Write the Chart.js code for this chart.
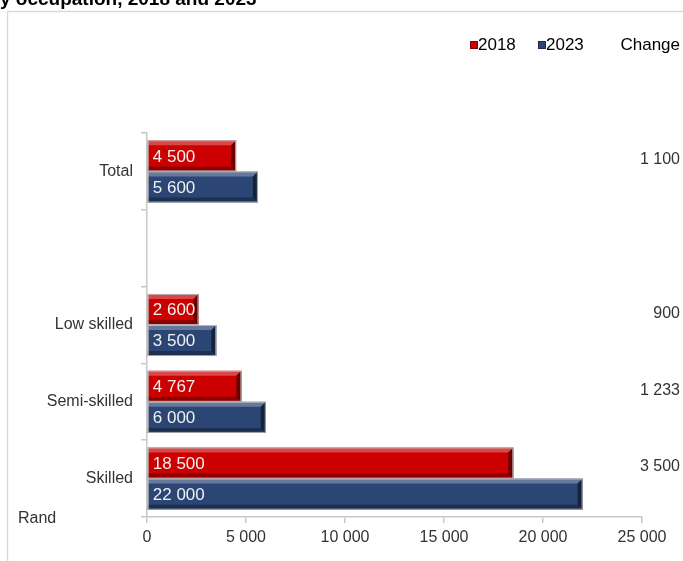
<!DOCTYPE html>
<html>
<head>
<meta charset="utf-8">
<style>
  html, body { margin: 0; padding: 0; background: #ffffff; }
  #wrap { position: relative; width: 683px; height: 561px; overflow: hidden; }
  canvas { display: block; }
</style>
<script src="https://cdn.jsdelivr.net/npm/chart.js@4/dist/chart.umd.min.js"></script>
</head>
<body>
<div id="wrap"><canvas id="chart" width="683" height="561"></canvas></div>
<script>
// Earnings by occupation (Rand)
const categories = ['Total', '', 'Low skilled', 'Semi-skilled', 'Skilled'];
const earnings2018 = [4500, null, 2600, 4767, 18500];
const earnings2023 = [5600, null, 3500, 6000, 22000];
const changeValues = [1100, null, 900, 1233, 3500];
const seriesNames = ['2018', '2023'];
const xTicks = [0, 5000, 10000, 15000, 20000, 25000];

const FONT = '"Liberation Sans", Arial, sans-serif';
const TEXT = '#333333';
const RED = '#cc0000';
const BLUE = '#2b4674';

function fmt(n) {
  return String(n).replace(/\B(?=(\d{3})+(?!\d))/g, ' ');
}

// Frame, clipped heading, unit label and legend
const decorations = {
  id: 'decorations',
  beforeDraw(chart) {
    const ctx = chart.ctx;
    ctx.save();
    ctx.fillStyle = '#ffffff';
    ctx.fillRect(0, 0, chart.width, chart.height);
    ctx.strokeStyle = '#d9d9d9';
    ctx.lineWidth = 1.5;
    ctx.beginPath();
    ctx.moveTo(7.5, chart.height + 2);
    ctx.lineTo(7.5, 11.5);
    ctx.lineTo(chart.width + 2, 11.5);
    ctx.stroke();

    ctx.fillStyle = '#000000';
    ctx.font = 'bold 19px ' + FONT;
    ctx.textBaseline = 'alphabetic';
    ctx.textAlign = 'left';
    ctx.fillText('y occupation, 2018 and 2023', 0, 5);
    ctx.restore();
  },
  afterDraw(chart) {
    const ctx = chart.ctx;
    ctx.save();
    ctx.font = '16px ' + FONT;
    ctx.fillStyle = TEXT;
    ctx.textBaseline = 'middle';
    ctx.textAlign = 'left';
    ctx.fillText('Rand', 18, 519);

    // legend
    const ly = 45;
    const colors = [RED, BLUE];
    let x = 470;
    seriesNames.forEach((name, i) => {
      ctx.fillStyle = colors[i];
      ctx.fillRect(x, ly - 4, 8, 8);
      ctx.strokeStyle = 'rgba(0,0,0,0.35)';
      ctx.lineWidth = 1;
      ctx.strokeRect(x + 0.5, ly - 3.5, 7, 7);
      ctx.fillStyle = '#000000';
      ctx.font = '17px ' + FONT;
      ctx.fillText(name, x + 8, ly);
      x += 68;
    });
    ctx.textAlign = 'right';
    ctx.fillText('Change', 680, ly);

    // change column, just below the middle of the 2018 bars
    const meta = chart.getDatasetMeta(0);
    ctx.font = '16px ' + FONT;
    ctx.fillStyle = TEXT;
    changeValues.forEach((v, i) => {
      if (v == null) return;
      const el = meta.data[i];
      ctx.fillText(fmt(v), 680, el.y + 4);
    });
    ctx.restore();
  }
};

// Bevelled bar edges plus value labels inside the bars
const bevelBars = {
  id: 'bevelBars',
  afterDatasetsDraw(chart) {
    const ctx = chart.ctx;
    ctx.save();
    chart.data.datasets.forEach((ds, di) => {
      const meta = chart.getDatasetMeta(di);
      meta.data.forEach((el, i) => {
        const v = ds.data[i];
        if (v == null) return;
        const x0 = el.base, x1 = el.x;
        const y0 = el.y - el.height / 2, y1 = el.y + el.height / 2;
        const b = 5;
        // top highlight
        ctx.fillStyle = 'rgba(255,255,255,0.28)';
        ctx.beginPath();
        ctx.moveTo(x0, y0); ctx.lineTo(x1, y0); ctx.lineTo(x1 - b, y0 + b); ctx.lineTo(x0, y0 + b);
        ctx.closePath(); ctx.fill();
        // bottom shade
        ctx.fillStyle = 'rgba(0,0,0,0.3)';
        ctx.beginPath();
        ctx.moveTo(x0, y1); ctx.lineTo(x1, y1); ctx.lineTo(x1 - b, y1 - b); ctx.lineTo(x0, y1 - b);
        ctx.closePath(); ctx.fill();
        // right edge shade
        ctx.fillStyle = 'rgba(0,0,0,0.5)';
        ctx.beginPath();
        ctx.moveTo(x1, y0); ctx.lineTo(x1, y1); ctx.lineTo(x1 - b, y1 - b); ctx.lineTo(x1 - b, y0 + b);
        ctx.closePath(); ctx.fill();
        // light outline
        ctx.strokeStyle = 'rgba(190,190,190,0.9)';
        ctx.lineWidth = 1;
        ctx.strokeRect(x0 + 0.5, y0 + 0.5, x1 - x0 - 1, y1 - y0 - 1);

        ctx.fillStyle = '#f0f0f0';
        ctx.font = '17px ' + FONT;
        ctx.textAlign = 'left';
        ctx.textBaseline = 'middle';
        ctx.fillText(fmt(v), x0 + 5, el.y + 1);
      });
    });
    ctx.restore();
  }
};

new Chart(document.getElementById('chart'), {
  type: 'bar',
  data: {
    labels: categories,
    datasets: [
      { label: seriesNames[0], data: earnings2018, backgroundColor: RED },
      { label: seriesNames[1], data: earnings2023, backgroundColor: BLUE }
    ]
  },
  options: {
    indexAxis: 'y',
    responsive: false,
    devicePixelRatio: 1,
    animation: false,
    categoryPercentage: 0.81,
    barPercentage: 1,
    layout: { padding: { top: 133, right: 41, left: 0, bottom: 0 } },
    plugins: { legend: { display: false }, tooltip: { enabled: false } },
    scales: {
      y: {
        grid: { offset: true, drawOnChartArea: false, tickLength: 6, color: '#c8c8c8', lineWidth: 1.5 },
        border: { color: '#c8c8c8', width: 1.5 },
        ticks: { font: { family: FONT, size: 16 }, color: TEXT, padding: 8 },
        afterFit(s) { s.width = 147; }
      },
      x: {
        min: xTicks[0],
        max: xTicks[xTicks.length - 1],
        afterBuildTicks(s) { s.ticks = xTicks.map(v => ({ value: v })); },
        grid: { drawOnChartArea: false, tickLength: 6, color: '#c8c8c8', lineWidth: 1.5 },
        border: { color: '#c8c8c8', width: 1.5 },
        ticks: { font: { family: FONT, size: 16 }, color: TEXT, padding: 5, callback: v => fmt(v) },
        afterFit(s) { s.height = 44; }
      }
    }
  },
  plugins: [decorations, bevelBars]
});
</script>
</body>
</html>
